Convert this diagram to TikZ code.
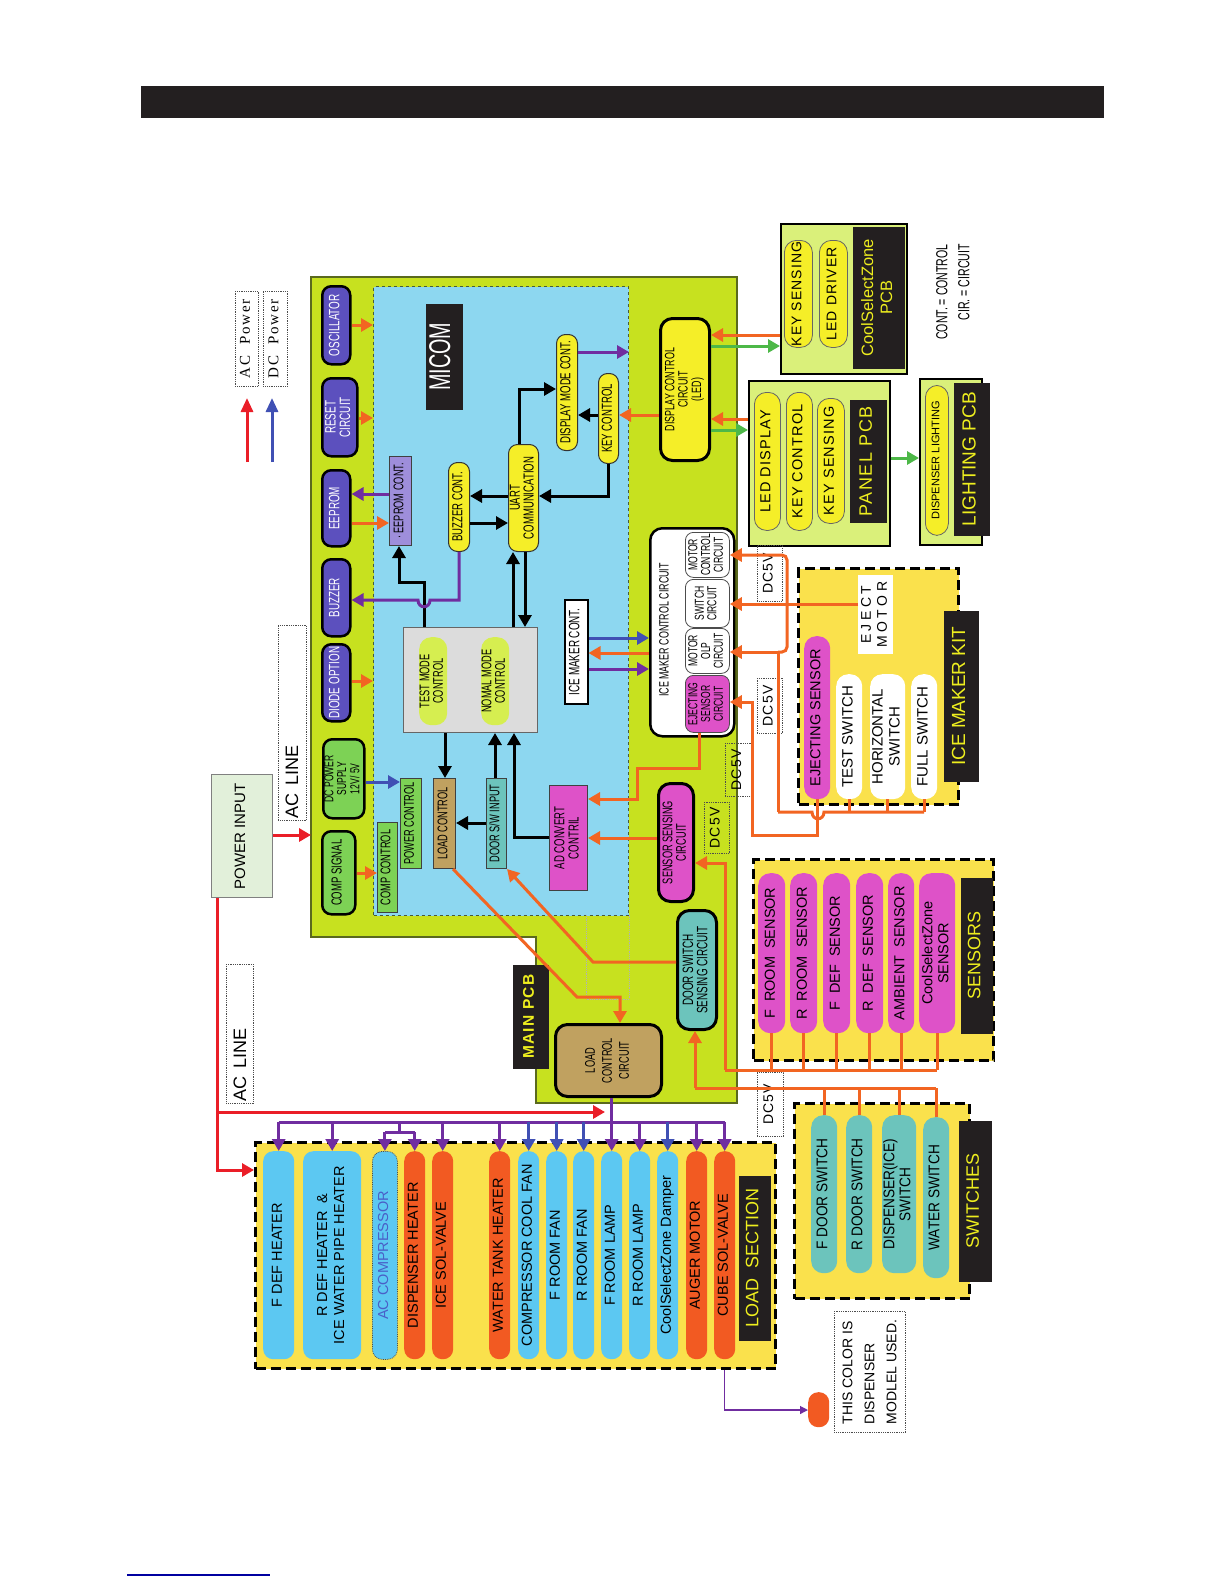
\documentclass[tikz,border=0pt]{standalone}
\usepackage{fontspec}
\usepackage{graphicx}
\usetikzlibrary{arrows.meta}
\setmainfont{Liberation Sans}
\newfontfamily\cnd[FakeStretch=0.66]{Liberation Sans}
\newfontfamily\arn[FakeStretch=0.88]{Liberation Sans}
\newfontfamily\ars{Liberation Sans}
\newfontfamily\arsp[LetterSpace=8]{Liberation Sans}
\newfontfamily\arwd[LetterSpace=25]{Liberation Sans}
\newfontfamily\ser[LetterSpace=12]{Liberation Serif}
\newcommand\fs[2]{\fontsize{#1}{#2}\selectfont}
\newcommand\ml[1]{\begin{tabular}{@{}c@{}}#1\end{tabular}}
\newcommand\Bx[7]{\node[#1,anchor=north west,minimum width={#5-#3},minimum height={#6-#4},inner sep=0pt] (#2) at (#3,#4) {\rotatebox{90}{\ml{#7}}};}
\definecolor{cLbl}{RGB}{35,31,32}
\definecolor{cPcb}{RGB}{199,225,31}
\definecolor{cPcbB}{RGB}{90,105,30}
\definecolor{cMic}{RGB}{141,215,240}
\definecolor{cMicB}{RGB}{70,90,60}
\definecolor{cDk}{RGB}{92,80,190}
\definecolor{cGrn}{RGB}{125,210,85}
\definecolor{cTan}{RGB}{192,161,96}
\definecolor{cTeal}{RGB}{108,196,188}
\definecolor{cMag}{RGB}{222,82,200}
\definecolor{cYel}{RGB}{245,238,40}
\definecolor{cLy}{RGB}{250,225,76}
\definecolor{cLb}{RGB}{92,200,242}
\definecolor{cOr}{RGB}{242,90,34}
\definecolor{cOa}{RGB}{242,101,34}
\definecolor{cPa}{RGB}{112,45,160}
\definecolor{cBa}{RGB}{64,80,180}
\definecolor{cRa}{RGB}{234,30,40}
\definecolor{cGa}{RGB}{77,184,72}
\definecolor{cPnl}{RGB}{218,240,122}
\definecolor{cPin}{RGB}{226,240,218}
\definecolor{cGry}{RGB}{220,220,220}
\definecolor{cTm}{RGB}{214,238,80}
\definecolor{cLav}{RGB}{158,142,219}
\definecolor{cYt}{RGB}{238,238,30}
\definecolor{cAcT}{RGB}{74,95,200}
\definecolor{cFoot}{RGB}{0,0,160}
\tikzset{
 tip/.style={-{Triangle[length=12pt,width=13pt]}},
 oa/.style={draw=cOa, line width=3pt, tip},
 ol/.style={draw=cOa, line width=3pt},
 pa/.style={draw=cPa, line width=3pt, tip},
 pl/.style={draw=cPa, line width=3pt},
 ba/.style={draw=cBa, line width=3pt, tip},
 ka/.style={draw=black, line width=3pt, tip},
 ra/.style={draw=cRa, line width=3pt, tip},
 ga/.style={draw=cGa, line width=3pt, tip},
 thinp/.style={draw=cPa, line width=1.2pt, -{Triangle[length=8pt,width=8pt]}},
 dk/.style={fill=cDk, draw=black, line width=2.5pt, rounded corners=9pt, text=white, font=\cnd\fs{15}{14}},
 grr/.style={fill=cGrn, draw=black, line width=2.5pt, rounded corners=9pt, font=\cnd\fs{13}{12.5}},
 gsq/.style={fill=cGrn, draw=black!75, line width=1pt, font=\cnd\fs{14}{14}},
 tsq/.style={gsq, fill=cTan},
 tlsq/.style={gsq, fill=cTeal},
 msq/.style={gsq, fill=cMag},
 lavs/.style={gsq, fill=cLav},
 wsq/.style={gsq, fill=white, draw=black, line width=1.5pt, font=\cnd\fs{15}{15}},
 ypill/.style={fill=cYel, draw=black!80, line width=1pt, rounded corners=9pt, font=\cnd\fs{14.5}{12}},
 tmpill/.style={fill=cTm, rounded corners=12pt, font=\cnd\fs{14}{13}},
 wpill/.style={fill=white, draw=black!70, line width=0.8pt, rounded corners=8pt, font=\cnd\fs{13}{12}},
 mpill/.style={wpill, fill=cMag},
 ythick/.style={fill=cYel, draw=black, line width=3pt, rounded corners=12pt, font=\cnd\fs{13.5}{12.5}},
 mthick/.style={ythick, fill=cMag, font=\cnd\fs{14}{12.5}},
 tthick/.style={ythick, fill=cTeal, font=\cnd\fs{15}{13}},
 tanthick/.style={ythick, fill=cTan, font=\cnd\fs{14}{17}},
 blk/.style={fill=cLbl, draw=cLbl, text=cYt, font=\ars\fs{18}{18}},
 pinb/.style={fill=cPin, draw=gray, line width=1.2pt, font=\ars\fs{15}{15}},
 dotb/.style={draw=black!70, densely dotted, line width=0.8pt, font=\arsp\fs{14}{14}},
 pnlbox/.style={fill=cPnl, draw=black, line width=1.5pt, anchor=north west, inner sep=0pt},
 ypillL/.style={fill=cYel, draw=black!60, line width=0.8pt, rounded corners=12pt, font=\arsp\fs{14.5}{15}},
 ldsec/.style={fill=cLy, draw=black, line width=3pt, dash pattern=on 10pt off 5pt, anchor=north west, inner sep=0pt},
 lbp/.style={fill=cLb, rounded corners=10pt, font=\ars\fs{14.5}{16}},
 orp/.style={lbp, fill=cOr},
 acp/.style={lbp, draw=black!70, densely dotted, line width=0.8pt, text=cAcT},
 mp/.style={fill=cMag, rounded corners=12pt, font=\ars\fs{14.5}{16}},
 tp/.style={fill=cTeal, rounded corners=12pt, font=\arn\fs{15.5}{16}},
 wp/.style={fill=white, rounded corners=12pt, font=\ars\fs{15}{17}},
}
\begin{document}
\begin{tikzpicture}[x=1pt,y=-1pt]
\useasboundingbox (0,0) rectangle (1224,1584);
\fill[white] (0,0) rectangle (1224,1584);
% header and footer
\fill[cLbl] (141,86) rectangle (1104,118);
\draw[cFoot, line width=1.2pt] (127,1575) -- (270,1575);
% legend
\coordinate (lr1) at (247,462); \coordinate (lr2) at (247,398);
\coordinate (lb1) at (272,462); \coordinate (lb2) at (272,398);
\draw[ra, -{Triangle[length=14pt,width=12pt]}] (lr1) -- (lr2);
\draw[ba, -{Triangle[length=14pt,width=12pt]}] (lb1) -- (lb2);
\Bx{dotb, font=\ser\fs{15}{15}}{acpw}{235}{291}{258}{386}{AC \ Power}
\Bx{dotb, font=\ser\fs{15}{15}}{dcpw}{263}{291}{287}{386}{DC \ Power}
% main pcb
\draw[fill=cPcb, draw=cPcbB, line width=1.5pt] (311,277) -- (737,277) -- (737,1103) -- (536,1103) -- (536,937) -- (311,937) -- cycle;
\node[fill=cMic, draw=cMicB, dashed, line width=1pt, anchor=north west, minimum width=255, minimum height=629, inner sep=0pt] (micom) at (373,286) {};
\draw[densely dotted, gray!60, line width=0.8pt] (586,915) -- (586,999) -- (629,999) -- (629,915);
\coordinate (pcbW) at (311,835);
% left column
\Bx{dk}{osc}{321}{285}{349}{363}{OSCILLATOR}
\Bx{dk}{rst}{321}{377}{356}{455}{RESET\\CIRCUIT}
\Bx{dk}{eep}{321}{469}{349}{545}{EEPROM}
\Bx{dk}{buz}{321}{558}{349}{635}{BUZZER}
\Bx{dk}{dio}{321}{643}{349}{720}{DIODE OPTION}
\Bx{grr}{dcps}{322}{738}{363}{817}{DC POWER\\SUPPLY\\12V/ 5V}
\Bx{grr, font=\cnd\fs{14.5}{14}}{cmps}{321}{830}{354}{913}{COMP SIGNAL}
% micom inner
\Bx{gsq}{cmpc}{377}{822}{397}{912}{COMP CONTROL}
\Bx{gsq}{pwrc}{400}{778}{421}{868}{POWER CONTROL}
\Bx{tsq}{ldc}{433}{778}{455}{868}{LOAD CONTROL}
\Bx{tlsq}{dsw}{486}{778}{506}{868}{DOOR S/W INPUT}
\Bx{msq, font=\cnd\fs{14.5}{14}}{adc}{549}{785}{587}{890}{AD CONVERT\\CONTRIL}
\Bx{blk, text=white, font=\cnd\fs{30}{30}}{miclbl}{426}{304}{462}{409}{MICOM}
\Bx{lavs}{eepc}{389}{456}{411}{545}{· EEPROM CONT.}
\Bx{ypill}{buzc}{448}{462}{469}{551}{BUZZER CONT.}
\Bx{ypill}{uart}{508}{444}{538}{551}{UART\\COMMUNICATION}
\Bx{ypill}{dmc}{556}{334}{577}{450}{DISPLAY MODE CONT.}
\Bx{ypill}{keyc}{598}{373}{618}{463}{KEY CONTROL}
\node[fill=cGry, draw=black!60, line width=1pt, anchor=north west, minimum width=134, minimum height=105, inner sep=0pt] (gbox) at (403,627) {};
\Bx{tmpill}{tmc}{419}{637}{447}{725}{TEST MODE\\CONTROL}
\Bx{tmpill}{nmc}{481}{637}{509}{725}{NOMAL MODE\\CONTROL}
\Bx{wsq}{imc}{564}{599}{587}{703}{ICE MAKER CONT.}
% ice maker control circuit
\node[fill=white, draw=black, line width=2.5pt, rounded corners=12pt, anchor=north west, minimum width=84, minimum height=208, inner sep=0pt] (imcc) at (649,527) {};
\node[rotate=90, font=\cnd\fs{13.5}{13}] (imcct) at (664,630) {ICE MAKER CONTROL CIRCUIT};
\Bx{wpill}{mcc}{685}{532}{729}{577}{MOTOR\\CONTROL\\CIRCUIT}
\Bx{wpill}{swc}{685}{579}{729}{627}{SWITCH\\CIRCUIT}
\Bx{wpill}{olp}{685}{628}{729}{673}{MOTOR\\OLP\\CIRCUIT}
\Bx{mpill}{esc}{685}{675}{729}{732}{EJECTING\\SENSOR\\CIRCUIT}
% other main pcb blocks
\Bx{ythick}{dcc}{659}{317}{708}{459}{DISPLAY CONTROL\\CIRCUIT\\(LED)}
\Bx{mthick}{ssc}{657}{782}{692}{900}{SENSOR SENSING\\CIRCUIT}
\Bx{tthick}{dss}{676}{909}{715}{1028}{DOOR SWITCH\\SENSING CIRCUIT}
\Bx{tanthick}{lcc}{554}{1023}{660}{1095}{LOAD\\CONTROL\\CIRCUIT}
\Bx{blk, font=\arsp\bfseries\fs{15.5}{16}}{mpcb}{513}{965}{548}{1068}{MAIN PCB}
% power input and AC lines
\Bx{pinb}{pin}{211}{774}{272}{897}{POWER INPUT}
\node[dotb, anchor=north west, minimum width=28, minimum height=195, inner sep=0pt] (aclb1) at (278,625) {};
\node[rotate=90, font=\ars\fs{18}{18}] (acl1) at (292,782) {AC\hspace{0.45em}LINE};
\node[dotb, anchor=north west, minimum width=27, minimum height=139, inner sep=0pt] (aclb2) at (226,964) {};
\node[rotate=90, font=\ars\fs{18}{18}] (acl2) at (240,1065) {AC\hspace{0.45em}LINE};
% panel PCBs
\node[pnlbox, minimum width=141, minimum height=165] (panel) at (748,380) {};
\Bx{ypillL}{ledd}{754}{392}{780}{530}{LED DISPLAY}
\Bx{ypillL}{keyct}{786}{392}{812}{530}{KEY CONTROL}
\Bx{ypillL}{keys}{817}{398}{844}{523}{KEY SENSING}
\Bx{blk, font=\arsp\fs{18}{18}}{panl}{850}{400}{886}{522}{PANEL PCB}
\node[pnlbox, minimum width=126, minimum height=150] (csz) at (780,223) {};
\Bx{ypillL, font=\arsp\fs{14}{15}}{cszk}{784}{240}{812}{347}{KEY SENSING}
\Bx{ypillL, font=\arsp\fs{14}{15}}{cszl}{819}{240}{847}{347}{LED DRIVER}
\Bx{blk, font=\ars\fs{16.5}{19}}{cszlb}{853}{227}{904}{368}{CoolSelectZone\\PCB}
\node[pnlbox, minimum width=62, minimum height=166] (lpcb) at (919,378) {};
\Bx{ypillL, font=\ars\fs{11}{12}}{displ}{925}{385}{948}{535}{DISPENSER LIGHTING}
\Bx{blk, font=\ars\fs{19}{19}}{lpl}{954}{383}{989}{535}{LIGHTING PCB}
\node[rotate=90, font=\cnd\fs{16}{22}] (abbr) at (954,292) {\begin{tabular}{@{}r@{}}CONT. = CONTROL\\CIR. = CIRCUIT\end{tabular}};
% load section
\node[ldsec, minimum width=520, minimum height=226] (lsec) at (254,1141) {};
\Bx{lbp}{fdef}{263}{1151}{294}{1359}{F DEF HEATER}
\Bx{lbp, font=\ars\fs{14.5}{17}}{rdef}{303}{1151}{361}{1359}{R DEF HEATER \ \&\\ICE WATER PIPE HEATER}
\Bx{acp}{acc}{372}{1151}{397}{1359}{AC COMPRESSOR}
\Bx{orp}{dsph}{404}{1151}{425}{1359}{DISPENSER HEATER}
\Bx{orp}{isv}{432}{1151}{453}{1359}{ICE SOL-VALVE}
\Bx{orp}{wth}{489}{1151}{510}{1359}{WATER TANK HEATER}
\Bx{lbp}{ccf}{518}{1151}{539}{1359}{COMPRESSOR COOL FAN}
\Bx{lbp}{frf}{546}{1151}{567}{1359}{F ROOM FAN}
\Bx{lbp}{rrf}{573}{1151}{594}{1359}{R ROOM FAN}
\Bx{lbp}{frl}{601}{1151}{622}{1359}{F ROOM LAMP}
\Bx{lbp}{rrl}{629}{1151}{650}{1359}{R ROOM LAMP}
\Bx{lbp}{csd}{657}{1151}{678}{1359}{CoolSelectZone Damper}
\Bx{orp}{aug}{686}{1151}{707}{1359}{AUGER MOTOR}
\Bx{orp}{csv}{714}{1151}{735}{1359}{CUBE SOL-VALVE}
\Bx{blk}{lsl}{739}{1176}{770}{1340}{LOAD \ SECTION}
% sensors
\node[ldsec, minimum width=240, minimum height=201] (ssec) at (752,858) {};
\Bx{mp}{frs}{758}{873}{785}{1033}{F \ ROOM \ SENSOR}
\Bx{mp}{rrs}{790}{873}{817}{1033}{R \ ROOM \ SENSOR}
\Bx{mp}{fds}{823}{873}{850}{1033}{F \ DEF \ SENSOR}
\Bx{mp}{rds}{856}{873}{883}{1033}{R \ DEF \ SENSOR}
\Bx{mp}{ambs}{888}{873}{914}{1033}{AMBIENT \ SENSOR}
\Bx{mp}{css}{919}{873}{955}{1033}{CoolSelectZone\\SENSOR}
\Bx{blk}{sensl}{961}{878}{992}{1033}{SENSORS}
% switches
\node[ldsec, minimum width=175, minimum height=195] (swsec) at (793,1102) {};
\Bx{tp}{fdsw}{811}{1115}{837}{1273}{F DOOR SWITCH}
\Bx{tp}{rdsw}{846}{1115}{872}{1273}{R DOOR SWITCH}
\Bx{tp}{dissw}{882}{1115}{916}{1273}{DISPENSER(ICE)\\SWITCH}
\Bx{tp}{wsw}{923}{1117}{949}{1278}{WATER SWITCH}
\Bx{blk}{swl}{959}{1121}{991}{1281}{SWITCHES}
% ice maker kit
\node[ldsec, minimum width=160, minimum height=236] (iks) at (797,567) {};
\Bx{fill=white, font=\arwd\fs{14}{16}}{ejm}{858}{575}{893}{654}{EJECT\\MOTOR}
\Bx{mp}{ejs}{804}{636}{830}{799}{EJECTING SENSOR}
\Bx{wp}{tsw}{836}{674}{862}{799}{TEST SWITCH}
\Bx{wp}{hsw}{870}{674}{905}{799}{HORIZONTAL\\SWITCH}
\Bx{wp}{fsw}{911}{674}{937}{799}{FULL SWITCH}
\Bx{blk, font=\ars\fs{19}{19}}{ikl}{944}{611}{978}{781}{ICE MAKER KIT}
% DC5V labels
\Bx{dotb}{dc1}{757}{545}{782}{601}{DC5V}
\Bx{dotb}{dc2}{757}{678}{782}{733}{DC5V}
\Bx{dotb}{dc3}{725}{743}{751}{796}{DC5V}
\Bx{dotb}{dc4}{704}{802}{729}{853}{DC5V}
\Bx{dotb}{dc5}{757}{1072}{783}{1136}{DC5V}
% dispenser note
\node[fill=cOr, rounded corners=10pt, anchor=north west, minimum width=21, minimum height=35, inner sep=0pt] (odot) at (808,1392) {};
\node[dotb, anchor=north west, minimum width=71, minimum height=121, inner sep=0pt, font=\ars\fs{14}{22}] (note) at (834,1311) {\rotatebox{90}{\begin{tabular}{@{}l@{}}THIS COLOR IS\\DISPENSER\\MODLEL USED.\end{tabular}}};
% ---------------- connectors
\draw[oa] (osc.east |- 0,325) -- (micom.west |- 0,325);
\draw[oa] (rst.east |- 0,418) -- (micom.west |- 0,418);
\draw[pa] (eepc.west |- 0,494) -- (eep.east |- 0,494);
\draw[oa] (eep.east |- 0,523) -- (eepc.west |- 0,523);
\draw[ka] (gbox.north -| 424,0) -- (424,582) -- (399,582) -- (eepc.south -| 399,0);
\draw[pa] (buzc.south) -- (buzc.south |- 0,600) -- (430,600) .. controls (430,609) and (418,609) .. (418,600) -- (buz.east |- 0,600);
\draw[oa] (dio.east |- 0,681) -- (micom.west |- 0,681);
\draw[ba] (dcps.east |- 0,782) -- (pwrc.west |- 0,782);
\draw[oa] (cmps.east |- 0,873) -- (cmpc.west |- 0,873);
\draw[ra] (pin.east |- pcbW) -- (pcbW);
\draw[ka] (uart.west |- 0,496) -- (buzc.east |- 0,496);
\draw[ka] (buzc.east |- 0,523) -- (uart.west |- 0,523);
\draw[ka] (keyc.south) -- (keyc.south |- 0,496) -- (uart.east |- 0,496);
\draw[ka] (uart.north -| 519,0) -- (519,389) -- (dmc.west |- 0,389);
\draw[ka] (keyc.west |- 0,415) -- (dmc.east |- 0,415);
\draw[ka] (gbox.north -| 513,0) -- (uart.south -| 513,0);
\draw[ka] (uart.south -| 525,0) -- (gbox.north -| 525,0);
\draw[ka] (gbox.south -| 445,0) -- (ldc.north -| 445,0);
\draw[ka] (dsw.north -| 495,0) -- (gbox.south -| 495,0);
\draw[ka] (adc.west |- 0,837) -- (514,837) -- (gbox.south -| 514,0);
\draw[ka] (dsw.west |- 0,823) -- (ldc.east |- 0,823);
\draw[pa] (dmc.east |- 0,352) -- (micom.east |- 0,352);
\draw[oa] (dcc.west |- 0,415) -- (keyc.east |- 0,415);
\draw[ba] (imc.east |- 0,638) -- (imcc.west |- 0,638);
\draw[oa] (imcc.west |- 0,653) -- (imc.east |- 0,653);
\draw[pa] (imc.east |- 0,669) -- (imcc.west |- 0,669);
% ice maker kit wiring
\coordinate (bL) at (778,812);
\draw[ol] (bL) -- (812,812) .. controls (812,821) and (824,821) .. (824,812) -- (fsw.south |- bL);
\draw[ol] (tsw.south) -- (tsw.south |- bL);
\draw[ol] (hsw.south) -- (hsw.south |- bL);
\draw[ol] (fsw.south) -- (fsw.south |- bL);
\draw[oa] (bL) -- (778,652) -- (olp.east |- 0,652);
\draw[oa, rounded corners=5pt] (778,652) -- (787,652) -- (787,555) -- (mcc.east |- 0,555);
\draw[oa] (ejm.west |- 0,604) -- (swc.east |- 0,604);
\draw[oa] (ejs.south) -- (ejs.south |- 0,835) -- (752,835) -- (752,702) -- (esc.east |- 0,702);
% sensors wiring
\coordinate (sb) at (725,1070);
\foreach \s in {frs,rrs,fds,rds,ambs,css} {\draw[ol] (\s.south) -- (\s.south |- sb);}
\draw[ol] (sb) -- (css.south |- sb);
\draw[oa] (sb) -- (725,863) -- (ssc.east |- 0,863);
% switches wiring
\coordinate (wb) at (695,1088);
\foreach \s in {fdsw,rdsw,dissw,wsw} {\draw[ol] (\s.north) -- (\s.north |- wb);}
\draw[ol] (wb) -- (wsw.north |- wb);
\draw[oa] (wb) -- (dss.south -| wb);
\draw[oa] (ssc.west |- 0,838) -- (adc.east |- 0,838);
\draw[oa] (esc.south -| 699,0) -- (699,768) -- (637,768) -- (637,799) -- (adc.east |- 0,799);
\draw[oa] (ldc.south -| 453,0) -- (577,997) -- (620,997) -- (lcc.north -| 620,0);
\draw[oa] (dss.west |- 0,962) -- (593,962) -- (dsw.south east);
% display connections
\draw[oa] (csz.west |- 0,335) -- (dcc.east |- 0,335);
\draw[ga] (dcc.east |- 0,346) -- (csz.west |- 0,346);
\draw[oa] (panel.west |- 0,419) -- (dcc.east |- 0,419);
\draw[ga] (dcc.east |- 0,430) -- (panel.west |- 0,430);
\draw[ga] (panel.east |- 0,458) -- (lpcb.west |- 0,458);
% power to loads
\draw[ra] (pin.south -| 217,0) -- (217,1170) -- (lsec.west |- 0,1170);
\coordinate (rS) at (217,1112);
\draw[ra] (rS) -- (605,1112);
\coordinate (pb) at (0,1122);
\draw[pl] (fdef.north |- pb) -- (csv.north |- pb);
\foreach \s in {fdef,rdef,isv,wth,rrl,aug,csv} {\draw[pa] (\s.north |- pb) -- (\s.north);}
\foreach \s in {ccf,frf,rrf,csd} {\draw[ba] (\s.north |- pb) -- (\s.north);}
\draw[pl] (399,1122) -- (399,1132);
\draw[pl] (acc.north |- 0,1132) -- (dsph.north |- 0,1132);
\draw[pa] (acc.north |- 0,1132) -- (acc.north);
\draw[pa] (dsph.north |- 0,1132) -- (dsph.north);
\draw[pa] (lcc.south -| frl.north) -- (frl.north);
\draw[thinp] (csv.south |- lsec.south) -- (csv.south |- 0,1410) -- (odot.west |- 0,1410);
\end{tikzpicture}
\end{document}
